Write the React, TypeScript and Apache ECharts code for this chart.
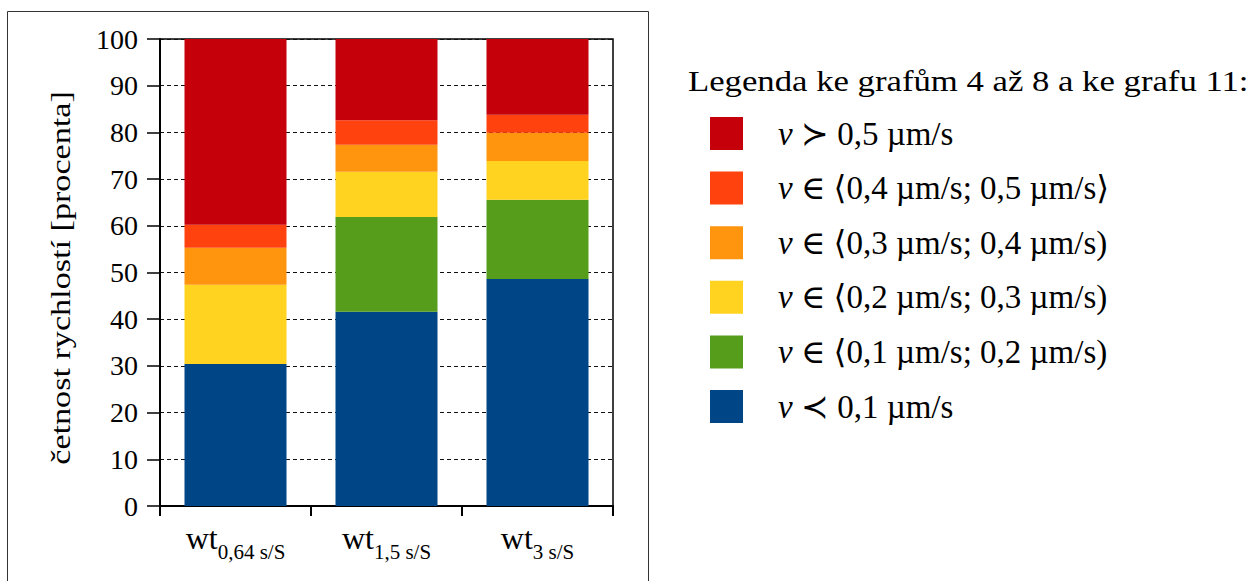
import React, { useEffect, useRef } from "react";
import * as echarts from "echarts";

const categories = ["0,64 s/S", "1,5 s/S", "3 s/S"];
const labelPrefix = "wt";
const yTicks = { min: 0, max: 100, interval: 10 };

const seriesNames = [
  "v ≺ 0,1 µm/s",
  "v ∈ ⟨0,1 µm/s; 0,2 µm/s)",
  "v ∈ ⟨0,2 µm/s; 0,3 µm/s)",
  "v ∈ ⟨0,3 µm/s; 0,4 µm/s)",
  "v ∈ ⟨0,4 µm/s; 0,5 µm/s⟩",
  "v ≻ 0,5 µm/s",
];
const seriesColors = ["#004586", "#579D1C", "#FFD320", "#FF950E", "#FF420E", "#C5000B"];

const blueVals = [30.4, 41.6, 48.6];
const greenVals = [0, 20.3, 17.0];
const yellowVals = [17.0, 9.7, 8.3];
const orangeVals = [7.9, 5.75, 6.0];
const redOrangeVals = [4.9, 5.25, 3.9];
const redVals = [39.8, 17.4, 16.2];
const seriesValues = [blueVals, greenVals, yellowVals, orangeVals, redOrangeVals, redVals];

const legendTitle = "Legenda ke grafům 4 až 8 a ke grafu 11:";
const yAxisTitle = "četnost rychlostí [procenta]";

const FONT = "'Liberation Serif', 'DejaVu Serif', serif";

export default function App() {
  const ref = useRef<HTMLDivElement>(null);
  useEffect(() => {
    if (!ref.current) return;
    const chart = echarts.init(ref.current, undefined, { renderer: "svg" });
    const option: any = {
      animation: false,
      backgroundColor: "#ffffff",
      textStyle: { fontFamily: FONT, color: "#000" },
      grid: {
        left: 160,
        right: 645,
        top: 39,
        bottom: 75,
        show: true,
        borderColor: "#000",
        borderWidth: 1.5,
        containLabel: false,
      },
      legend: {
        orient: "vertical",
        left: 710,
        top: 117,
        padding: 0,
        itemWidth: 33,
        itemHeight: 33,
        itemGap: 21.6,
        icon: "rect",
        selectedMode: false,
        data: seriesNames.slice().reverse(),
        formatter: (name: string) => `{i|${name[0]}}{t|${name.slice(1)}}`,
        textStyle: {
          fontFamily: FONT,
          fontSize: 33,
          color: "#000",
          rich: {
            i: { fontFamily: FONT, fontSize: 33, fontStyle: "italic", padding: [0, 0, 0, 30], lineHeight: 33, color: "#000" },
            t: { fontFamily: FONT, fontSize: 33, lineHeight: 33, color: "#000" },
          },
        },
      },
      xAxis: {
        type: "category",
        data: categories,
        boundaryGap: true,
        axisLine: { show: true, lineStyle: { color: "#000", width: 2 } },
        axisTick: { show: true, alignWithLabel: false, interval: 0, length: 10, lineStyle: { color: "#000", width: 2 } },
        axisLabel: {
          interval: 0,
          margin: 16,
          formatter: (v: string) => `{a|${labelPrefix}}{b|${v}}`,
          rich: {
            a: { fontFamily: FONT, fontSize: 32, verticalAlign: "top", color: "#000" },
            b: { fontFamily: FONT, fontSize: 21, verticalAlign: "top", padding: [19, 0, 0, 0], color: "#000" },
          },
        },
        splitLine: { show: false },
      },
      yAxis: {
        type: "value",
        min: yTicks.min,
        max: yTicks.max,
        interval: yTicks.interval,
        axisLine: { show: true, lineStyle: { color: "#000", width: 2 } },
        axisTick: { show: true, length: 13, lineStyle: { color: "#000", width: 1.5 } },
        axisLabel: { margin: 22, fontFamily: FONT, fontSize: 28, color: "#000" },
        splitLine: { show: true, lineStyle: { color: "#111", width: 1, type: [4, 3] } },
      },
      series: seriesNames.map((name, i) => ({
        name,
        type: "bar",
        stack: "total",
        barWidth: 102,
        data: seriesValues[i],
        itemStyle: { color: seriesColors[i] },
        emphasis: { disabled: true },
      })),
      graphic: [
        {
          type: "rect",
          shape: { x: 7.5, y: 11.5, width: 641, height: 620 },
          style: { fill: "none", stroke: "#333", lineWidth: 1 },
          silent: true,
        },
        {
          type: "text",
          x: 688,
          y: 81,
          scaleX: 1.157,
          style: { text: legendTitle, fontFamily: FONT, fontSize: 30, fill: "#000", align: "left", verticalAlign: "middle" },
        },
        {
          type: "text",
          x: 61,
          y: 278,
          rotation: Math.PI / 2,
          scaleX: 1.22,
          style: { text: yAxisTitle, fontFamily: FONT, fontSize: 28, fill: "#000", align: "center", verticalAlign: "middle" },
        },
      ],
    };
    chart.setOption(option);
    return () => chart.dispose();
  }, []);
  return (
    <div
      ref={ref}
      style={{ position: "absolute", left: 0, top: 0, width: 1258, height: 581 }}
    />
  );
}
